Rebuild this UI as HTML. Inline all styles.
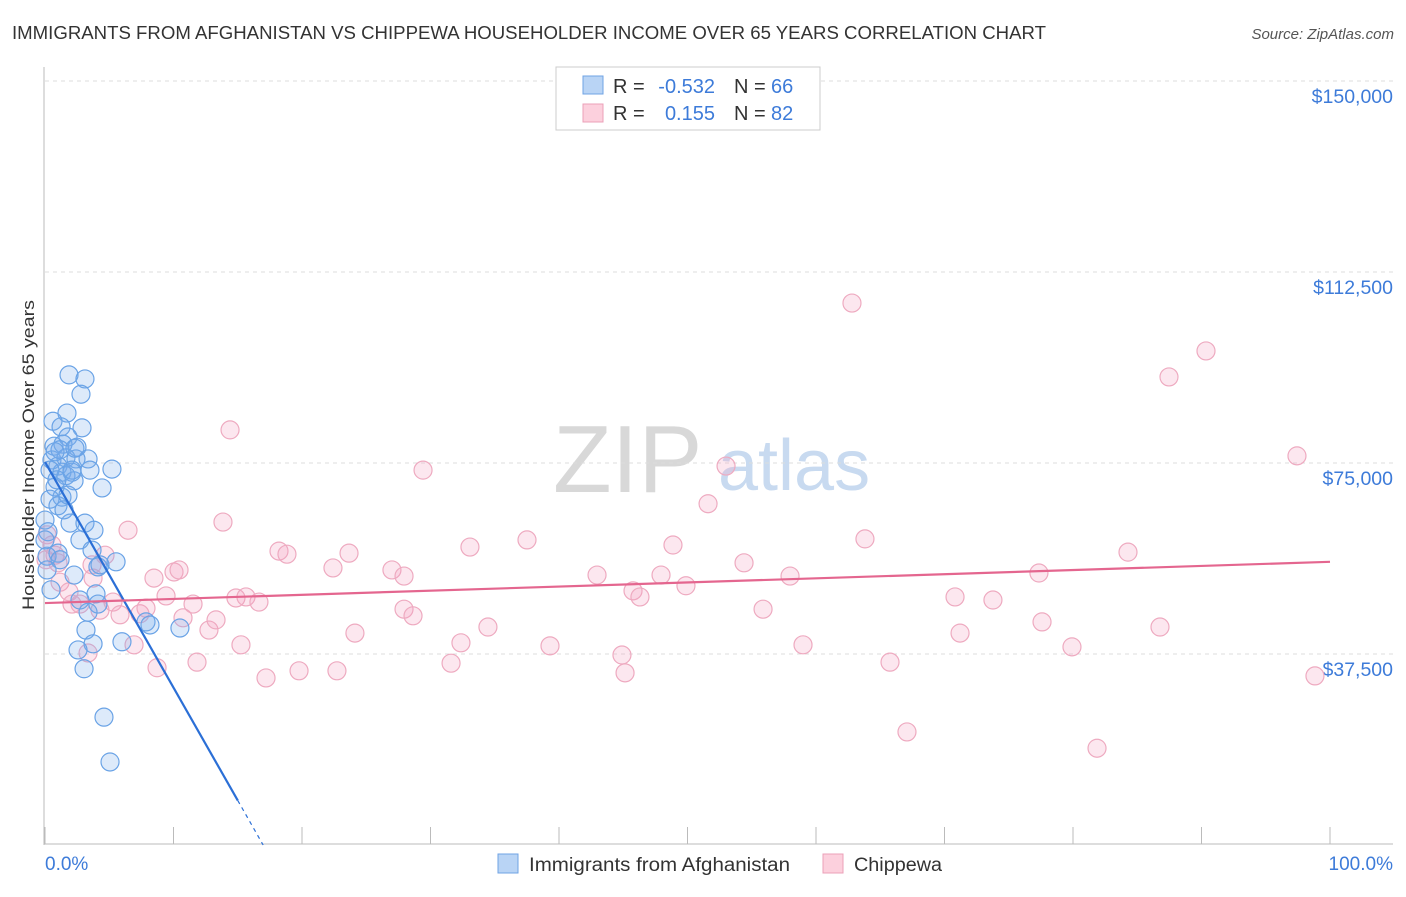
<!DOCTYPE html>
<html><head><meta charset="utf-8"><style>
body{margin:0;background:#fff;font-family:"Liberation Sans",sans-serif}
svg text{font-family:"Liberation Sans",sans-serif}
</style></head><body>
<svg id="c" width="1406" height="892" xmlns="http://www.w3.org/2000/svg">
<text x="12" y="39" font-size="18" fill="#333" textLength="1034" lengthAdjust="spacingAndGlyphs">IMMIGRANTS FROM AFGHANISTAN VS CHIPPEWA HOUSEHOLDER INCOME OVER 65 YEARS CORRELATION CHART</text>
<text x="1394" y="39" font-size="15" fill="#555" text-anchor="end" font-style="italic">Source: ZipAtlas.com</text>
<text x="553" y="492" font-size="96" fill="#d8d8d8" font-family="Liberation Serif">ZIP</text>
<text x="718" y="490" font-size="72" fill="#c8daf0">atlas</text>
<text transform="translate(34,455) rotate(-90)" font-size="17" fill="#333" text-anchor="middle" textLength="310" lengthAdjust="spacingAndGlyphs">Householder Income Over 65 years</text>
<g id="grid"></g><g id="pts"></g><g id="trend"></g>
<text x="45" y="870" font-size="19" fill="#3d7bd9">0.0%</text>
<text x="1393" y="870" font-size="19" fill="#3d7bd9" text-anchor="end">100.0%</text>
<g>
<rect x="556" y="67" width="264" height="63" fill="#fff" stroke="#ccc"/>
<rect x="583" y="76" width="20" height="18" fill="#b9d4f5" stroke="#6fa3e4"/>
<rect x="583" y="104" width="20" height="18" fill="#fcd0dd" stroke="#eba0b8"/>
<text x="613" y="93" font-size="20" fill="#333">R =</text>
<text x="715" y="93" font-size="20" fill="#3d7bd9" text-anchor="end">-0.532</text>
<text x="734" y="93" font-size="20" fill="#333">N =</text>
<text x="771" y="93" font-size="20" fill="#3d7bd9">66</text>
<text x="613" y="120" font-size="20" fill="#333">R =</text>
<text x="715" y="120" font-size="20" fill="#3d7bd9" text-anchor="end">0.155</text>
<text x="734" y="120" font-size="20" fill="#333">N =</text>
<text x="771" y="120" font-size="20" fill="#3d7bd9">82</text>
</g>
<g>
<rect x="498" y="854" width="20" height="19" fill="#b9d4f5" stroke="#6fa3e4"/>
<text x="529" y="871" font-size="19" fill="#333" textLength="261" lengthAdjust="spacingAndGlyphs">Immigrants from Afghanistan</text>
<rect x="823" y="854" width="20" height="19" fill="#fcd0dd" stroke="#eba0b8"/>
<text x="854" y="871" font-size="19" fill="#333" textLength="88" lengthAdjust="spacingAndGlyphs">Chippewa</text>
</g>
</svg>
<script>
const yTicks=[37500,75000,112500,150000];
const yTickLabels=["$37,500","$75,000","$112,500","$150,000"];
const blueX=[1.87,3.11,2.80,1.71,0.62,1.25,2.88,1.79,0.70,1.40,2.49,3.35,5.21,0.54,1.63,2.41,1.01,1.32,2.10,1.63,2.26,4.44,0.78,1.32,0.39,1.01,0.0,1.95,3.11,3.81,0.23,2.72,3.66,1.01,0.16,5.53,4.12,2.26,3.97,4.12,3.35,7.86,10.5,3.19,3.74,5.99,2.57,3.04,4.59,5.06,1.17,0.39,0.93,1.48,0.0,2.10,3.50,0.78,1.79,4.28,8.17,2.72,1.17,0.47,0.16,2.33];
const blueY=[92300,91500,88500,84800,83200,82100,81900,80100,78300,78700,78100,75800,73800,75600,76000,75800,74400,73200,73200,72500,71500,70100,70300,68300,67900,66600,63800,63200,63200,61800,61500,59900,57900,57300,56700,55600,54600,53000,49300,47300,45700,43800,42600,42200,39500,39900,38300,34600,25100,16300,77600,73600,71700,65800,59900,73600,73600,77200,68700,55000,43200,48100,56000,50100,54000,77900];
const pinkX=[0.16,0.78,1.01,1.17,1.87,2.10,2.72,3.35,3.74,3.66,4.67,4.28,5.29,5.84,6.46,6.93,7.39,7.86,8.48,8.72,9.42,10.04,10.43,10.74,11.52,11.83,12.76,13.31,13.85,14.40,14.86,15.25,15.64,16.65,17.20,18.21,18.83,19.77,22.41,22.72,23.66,24.12,27.00,27.94,27.94,28.64,29.42,31.60,32.37,33.07,34.47,37.51,39.30,42.96,44.90,45.14,45.76,46.30,47.94,48.87,49.88,51.60,53.00,54.40,55.88,57.98,58.99,62.80,63.81,65.76,67.08,70.82,71.21,73.77,77.35,77.59,79.92,81.87,84.28,86.77,87.47,90.35,97.43,98.83,0.54,0.08];
const pinkY=[60900,56900,55400,51600,49700,47300,47300,37700,52400,55000,56900,46100,47700,45200,61800,39300,45400,46500,52400,34800,48900,53600,54000,44600,47300,35900,42200,44200,63400,81500,48500,39300,48700,47700,32800,57700,57100,34200,54400,34200,57300,41600,54000,52800,46300,45000,73600,35700,39700,58500,42800,59900,39100,53000,37300,33800,49900,48700,53000,58900,50900,67000,74400,55400,46300,52800,39300,106400,60100,35900,22200,48700,41600,48100,53400,43800,38900,19000,57500,42800,91900,97000,76400,33200,58900,56000];
const blueTrend=[75200,-4430];
const pinkTrend=[47500,81];
const NS="http://www.w3.org/2000/svg";
const X=v=>45+v*12.85, Y=v=>845-v/37500*191;
function mk(t,a,p){const e=document.createElementNS(NS,t);for(const k in a)e.setAttribute(k,a[k]);p.appendChild(e);return e;}
const g=document.getElementById('grid');
yTicks.forEach((t,i)=>{
 const l=mk('line',{x1:45,x2:1393,y1:Y(t),y2:Y(t),stroke:'#ddd','stroke-dasharray':'4,4'},g);
 
 
 const tx=mk('text',{x:1393,y:Y(t)+22,'font-size':19.5,fill:'#3d7bd9','text-anchor':'end'},g);
 tx.textContent=yTickLabels[i];
 
 
});
const ax=mk('line',{x1:44,x2:44,y1:67,y2:845,stroke:'#bbb'},g);


const bx=mk('line',{x1:44,x2:1393,y1:844,y2:844,stroke:'#bbb'},g);


for(let i=0;i<=10;i++){const t=mk('line',{x1:X(i*10),x2:X(i*10),y1:827,y2:844,stroke:'#bbb'},g);
 
 }
const p=document.getElementById('pts');
pinkX.forEach((x,i)=>{const c=mk('circle',{cx:X(x),cy:Y(pinkY[i]),r:9,fill:'rgba(245,160,190,0.25)',stroke:'#eeaac0','stroke-width':1.2},p);
 
 });
blueX.forEach((x,i)=>{const c=mk('circle',{cx:X(x),cy:Y(blueY[i]),r:9,fill:'rgba(120,170,235,0.25)',stroke:'#6aa3e6','stroke-width':1.2},p);
 
 });
const tr=document.getElementById('trend');
const bEnd=15, bZero=-blueTrend[0]/blueTrend[1];
const b1=mk('line',{x1:X(0),y1:Y(blueTrend[0]),x2:X(bEnd),y2:Y(blueTrend[0]+blueTrend[1]*bEnd),stroke:'#2b6fd6','stroke-width':2.2},tr);


const b2=mk('line',{x1:X(bEnd),y1:Y(blueTrend[0]+blueTrend[1]*bEnd),x2:X(bZero),y2:Y(0),stroke:'#2b6fd6','stroke-width':1.2,'stroke-dasharray':'4,4'},tr);


const pl=mk('line',{x1:X(0),y1:Y(pinkTrend[0]),x2:X(100),y2:Y(pinkTrend[0]+pinkTrend[1]*100),stroke:'#e4668f','stroke-width':2.2},tr);


</script>
</body></html>
